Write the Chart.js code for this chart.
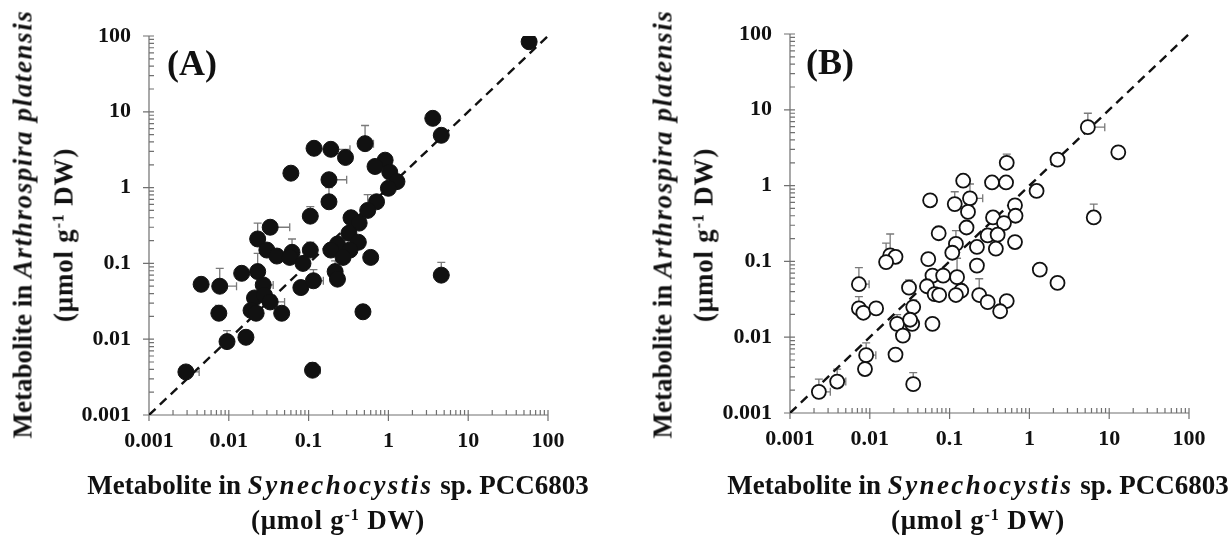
<!DOCTYPE html>
<html>
<head>
<meta charset="utf-8">
<script src="https://cdn.jsdelivr.net/npm/chart.js@4"></script>
<style>
  body { margin: 0; background: #fff; }
  #page { position: relative; width: 1232px; height: 536px; overflow: hidden; background: #fff;
          font-family: 'Liberation Serif', 'Times New Roman', serif; color: #111; }
  .panel { position: absolute; top: 0; width: 600px; height: 536px; }
  .t { position: absolute; transform: translate(-50%, -50%); white-space: nowrap;
       font-weight: bold; font-size: 27px; line-height: 1; }
  .rot { transform: translate(-50%, -50%) rotate(-90deg); }
  .t sup { font-size: 0.6em; vertical-align: 0.55em; line-height: 0; }
  .t i { letter-spacing: 2.4px; }
  .rot i { letter-spacing: 1.6px; }
  .u { letter-spacing: 0.8px; }
  .lab { position: absolute; font-weight: bold; font-size: 36px; line-height: 1; }
</style>
</head>
<body>
<div id="page">
  <div class="panel" style="left:0"><canvas id="chartA" width="600" height="536"></canvas></div>
  <div class="panel" style="left:641px;top:-2px"><canvas id="chartB" width="600" height="536"></canvas></div>

  <div class="lab" style="left:167px;top:45px">(A)</div>
  <div class="lab" style="left:806px;top:44px">(B)</div>

  <div class="t" style="left:338px;top:485px">Metabolite in <i>Synechocystis</i> sp. PCC6803</div>
  <div class="t u" style="left:338px;top:520px">(μmol g<sup>-1</sup> DW)</div>
  <div class="t rot" style="left:23px;top:224px">Metabolite in <i>Arthrospira platensis</i></div>
  <div class="t rot u" style="left:64px;top:235px">(μmol g<sup>-1</sup> DW)</div>

  <div class="t" style="left:978px;top:485px">Metabolite in <i>Synechocystis</i> sp. PCC6803</div>
  <div class="t u" style="left:978px;top:520px">(μmol g<sup>-1</sup> DW)</div>
  <div class="t rot" style="left:663px;top:224px">Metabolite in <i>Arthrospira platensis</i></div>
  <div class="t rot u" style="left:704px;top:235px">(μmol g<sup>-1</sup> DW)</div>
</div>

<script>
// axis ticks (log scale, both axes, both panels)
const tickValues = [0.001, 0.01, 0.1, 1, 10, 100];
const tickLabels = ['0.001', '0.01', '0.1', '1', '10', '100'];
const diagonal = [0.001, 100];

// panel A : filled circles
const aX = [58, 3.6, 4.6, 0.51, 0.117, 0.19, 0.29, 0.91, 0.68, 1.04, 0.06, 1.28, 1.0, 0.18, 0.18, 0.71, 0.55, 0.105,
  0.34, 0.43, 0.033, 0.32, 0.023, 0.23, 0.42, 0.105, 0.19, 0.33, 0.27, 0.03, 0.04, 0.062, 0.058, 0.085, 0.6,
  0.0145, 0.023, 0.0045, 0.0077, 0.027, 0.021, 0.028, 0.033, 0.019, 0.022, 0.046, 0.08, 0.115, 0.215, 0.23, 4.6,
  0.48, 0.0075, 0.0095, 0.0164, 0.0029, 0.112];
const aY = [84, 8.2, 4.9, 3.8, 3.3, 3.2, 2.5, 2.3, 1.9, 1.6, 1.55, 1.2, 0.98, 1.27, 0.65, 0.65, 0.5, 0.42,
  0.4, 0.34, 0.3, 0.25, 0.21, 0.18, 0.19, 0.15, 0.15, 0.15, 0.12, 0.15, 0.125, 0.14, 0.12, 0.1, 0.12,
  0.074, 0.078, 0.053, 0.05, 0.052, 0.035, 0.038, 0.031, 0.024, 0.022, 0.022, 0.048, 0.059, 0.078, 0.062, 0.07,
  0.023, 0.022, 0.0093, 0.0106, 0.0037, 0.0039];
const aYHi = [null, null, null, 6.6, null, null, null, null, null, null, null, null, null, null, 1.0, null, 0.81, 0.56,
  null, null, null, null, 0.34, null, null, 0.19, null, null, null, null, null, 0.21, null, null, null,
  null, 0.136, null, 0.086, null, null, null, null, null, null, null, null, 0.083, 0.108, null, 0.103,
  null, 0.028, 0.013, null, null, 0.0049];
const aXHi = [null, null, null, 0.65, null, 0.33, null, null, null, null, null, null, null, 0.30, null, null, null, null,
  null, null, 0.058, null, null, null, null, null, null, null, null, null, null, null, null, null, null,
  null, null, null, 0.0125, 0.036, null, null, 0.05, null, null, null, null, 0.153, null, null, null,
  null, null, null, null, 0.00425, 0.14];

// panel B : open circles
const bX = [5.4, 13, 2.25, 0.52, 0.148, 0.34, 0.51, 1.23, 0.057, 0.116, 0.18, 0.17, 0.66, 0.67, 0.35, 0.48, 6.4,
  0.163, 0.073, 0.3, 0.4, 0.66, 0.12, 0.22, 0.38, 0.108, 0.054, 0.22, 0.018, 0.021, 0.016, 1.35, 2.25,
  0.061, 0.083, 0.124, 0.0073, 0.052, 0.031, 0.065, 0.074, 0.14, 0.12, 0.235, 0.3, 0.52, 0.43,
  0.0073, 0.0083, 0.012, 0.035, 0.022, 0.034, 0.032, 0.061, 0.026, 0.009, 0.021, 0.0087, 0.035, 0.0039, 0.0023];
const bY = [5.9, 2.75, 2.2, 2.0, 1.16, 1.1, 1.1, 0.85, 0.64, 0.57, 0.68, 0.45, 0.55, 0.4, 0.38, 0.32, 0.38,
  0.28, 0.235, 0.22, 0.225, 0.18, 0.17, 0.155, 0.147, 0.13, 0.107, 0.088, 0.12, 0.115, 0.098, 0.078, 0.052,
  0.065, 0.065, 0.062, 0.05, 0.047, 0.045, 0.037, 0.036, 0.041, 0.036, 0.036, 0.029, 0.03, 0.022,
  0.024, 0.021, 0.024, 0.025, 0.015, 0.015, 0.017, 0.015, 0.0105, 0.0058, 0.0059, 0.0038, 0.0024, 0.0026, 0.0019];
const bYHi = [9.0, null, null, 2.6, null, null, null, null, null, 0.83, 1.05, null, null, null, null, null, 0.57,
  null, null, null, null, null, 0.255, null, null, null, null, null, 0.23, 0.14, 0.174, null, null,
  null, null, 0.11, 0.083, null, 0.057, null, null, null, null, 0.059, null, null, null,
  0.0344, null, null, 0.031, 0.0198, null, null, null, null, 0.0084, null, null, 0.0034, 0.0038, 0.0028];
const bXHi = [8.8, null, null, 0.62, null, null, null, null, null, null, 0.26, null, null, null, null, null, null,
  null, null, null, null, null, null, null, null, null, null, null, null, null, null, null, null,
  null, null, null, 0.0098, null, null, null, null, null, null, null, null, null, null,
  null, null, null, null, null, null, null, null, null, 0.0119, null, null, null, 0.005, 0.0032];

const tickFont = { family: "'Liberation Serif', 'Times New Roman', serif", size: 22, weight: 'bold' };

function makePanel(id, xs, ys, yHi, xHi, filled) {
  // error bars + hand drawn log axes (ticks pointing inward)
  const extras = {
    id: 'extras',
    beforeDatasetsDraw(chart) {
      const { ctx, chartArea: ca, scales: { x, y } } = chart;
      ctx.save();
      ctx.strokeStyle = '#707070';
      ctx.lineWidth = 1.2;
      ctx.beginPath();
      ctx.moveTo(ca.left, ca.top);
      ctx.lineTo(ca.left, ca.bottom);
      ctx.lineTo(ca.right, ca.bottom);
      tickValues.forEach((v, k) => {
        const px = x.getPixelForValue(v), py = y.getPixelForValue(v);
        ctx.moveTo(px, ca.bottom - 5); ctx.lineTo(px, ca.bottom + 6);
        ctx.moveTo(ca.left - 6, py); ctx.lineTo(ca.left + 5, py);
        if (k < tickValues.length - 1) {
          for (let m = 2; m <= 9; m++) {
            const mx = x.getPixelForValue(v * m), my = y.getPixelForValue(v * m);
            ctx.moveTo(mx, ca.bottom); ctx.lineTo(mx, ca.bottom - 5);
            ctx.moveTo(ca.left, my); ctx.lineTo(ca.left + 5, my);
          }
        }
      });
      ctx.stroke();

      ctx.strokeStyle = '#7a7a7a';
      ctx.lineWidth = 1.3;
      ctx.beginPath();
      xs.forEach((v, i) => {
        const px = x.getPixelForValue(v), py = y.getPixelForValue(ys[i]);
        if (yHi[i] != null) {
          const e = y.getPixelForValue(yHi[i]);
          ctx.moveTo(px, py); ctx.lineTo(px, e);
          ctx.moveTo(px - 4, e); ctx.lineTo(px + 4, e);
        }
        if (xHi[i] != null) {
          const e = x.getPixelForValue(xHi[i]);
          ctx.moveTo(px, py); ctx.lineTo(e, py);
          ctx.moveTo(e, py - 4); ctx.lineTo(e, py + 4);
        }
      });
      ctx.stroke();
      ctx.restore();
    }
  };

  const axis = (isY) => ({
    type: 'logarithmic',
    min: tickValues[0],
    max: tickValues[tickValues.length - 1],
    afterBuildTicks: s => { s.ticks = tickValues.map(v => ({ value: v })); },
    afterFit: s => { if (isY) s.width = 149; else s.height = 121; },
    grid: { display: false, drawTicks: false },
    border: { display: false },
    ticks: {
      autoSkip: false,
      maxRotation: 0,
      padding: isY ? 18 : 13,
      color: '#111',
      font: tickFont,
      callback: (v) => { const k = tickValues.indexOf(v); return k >= 0 ? tickLabels[k] : ''; }
    }
  });

  return new Chart(document.getElementById(id), {
    type: 'scatter',
    data: {
      datasets: [
        {
          data: xs.map((v, i) => ({ x: v, y: ys[i] })),
          pointRadius: filled ? 8 : 7,
          pointBackgroundColor: filled ? '#111' : '#fff',
          pointBorderColor: '#111',
          pointBorderWidth: filled ? 1 : 1.8,
          order: 1
        },
        {
          type: 'line',
          data: diagonal.map(v => ({ x: v, y: v })),
          borderColor: '#111',
          borderWidth: 2.4,
          borderDash: [9, 6],
          pointRadius: 0,
          fill: false,
          order: 2
        }
      ]
    },
    options: {
      responsive: false,
      animation: false,
      layout: { padding: { top: 36, right: 52, left: 0, bottom: 0 } },
      plugins: { legend: { display: false }, tooltip: { enabled: false } },
      scales: { x: axis(false), y: axis(true) }
    },
    plugins: [extras]
  });
}

makePanel('chartA', aX, aY, aYHi, aXHi, true);
makePanel('chartB', bX, bY, bYHi, bXHi, false);
</script>
</body>
</html>
